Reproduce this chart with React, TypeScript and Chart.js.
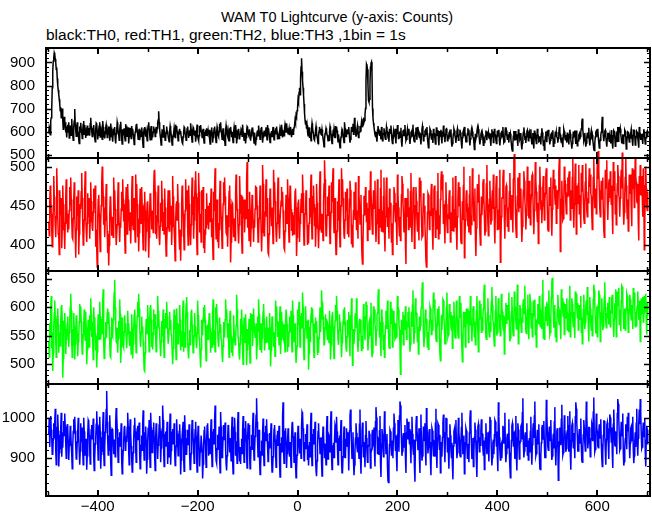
import React, { useEffect, useRef } from "react";
import { Chart, registerables } from "chart.js";

Chart.register(...registerables);

// time bins (seconds), 1 bin = 1 s
const T_START = -498;
const BIN = 1;

// black: TH0
const TH0 = [
  592, 620, 612, 586, 648, 660, 700, 790, 862, 905, 920, 942, 934, 915, 900, 870, 878, 830, 800, 780, 762, 740, 720, 690, 705, 660, 680, 700, 652, 610, 640, 664, 618, 640, 596, 612, 574, 620, 630, 598,
  640, 572, 588, 626, 602, 584, 655, 610, 585, 562, 620, 646, 698, 630, 604, 580, 612, 640, 578, 600, 566, 548, 622, 598, 638, 610, 596, 570, 604, 632, 646, 588, 628, 606, 572, 594, 581, 626, 610, 586,
  615, 596, 582, 634, 660, 622, 604, 578, 594, 612, 628, 590, 572, 556, 610, 636, 632, 602, 566, 584, 608, 624, 640, 576, 588, 610, 598, 566, 646, 620, 574, 602, 570, 592, 616, 630, 612, 574, 590, 608,
  598, 622, 560, 580, 635, 612, 602, 574, 556, 596, 584, 610, 620, 568, 548, 590, 602, 640, 626, 598, 586, 562, 604, 628, 642, 600, 570, 546, 610, 586, 588, 614, 578, 560, 632, 604, 625, 580, 596, 618,
  548, 578, 592, 616, 596, 570, 624, 600, 612, 588, 574, 544, 570, 598, 606, 628, 634, 604, 588, 566, 590, 612, 562, 584, 606, 580, 618, 596, 558, 532, 596, 612, 620, 590, 578, 600, 584, 560, 608, 626,
  640, 612, 586, 564, 600, 624, 562, 588, 574, 598, 622, 600, 612, 578, 594, 620, 592, 614, 636, 650, 688, 640, 610, 584, 566, 542, 580, 606, 604, 576, 628, 604, 586, 562, 570, 594, 622, 602, 600, 578,
  578, 556, 602, 624, 610, 588, 566, 542, 560, 580, 594, 616, 598, 574, 630, 606, 624, 598, 586, 560, 582, 604, 612, 590, 602, 580, 570, 552, 548, 576, 598, 620, 616, 592, 584, 562, 590, 612, 622, 596,
  572, 594, 606, 584, 636, 610, 578, 554, 596, 618, 612, 586, 584, 604, 556, 578, 606, 630, 590, 568, 560, 582, 624, 600, 628, 606, 600, 574, 592, 612, 572, 550, 578, 596, 608, 584, 614, 590, 586, 604,
  586, 608, 566, 546, 604, 582, 618, 596, 552, 574, 590, 612, 622, 598, 574, 552, 596, 620, 608, 584, 578, 600, 634, 612, 640, 606, 588, 566, 590, 614, 560, 582, 566, 540, 602, 626, 608, 588, 580, 602,
  582, 560, 614, 592, 620, 600, 576, 598, 574, 552, 596, 618, 598, 576, 628, 604, 548, 570, 584, 606, 612, 590, 566, 588, 590, 610, 604, 580, 630, 598, 586, 562, 572, 594, 548, 574, 600, 622, 618, 590,
  584, 602, 610, 586, 560, 582, 596, 614, 618, 594, 572, 550, 596, 570, 540, 566, 574, 598, 606, 582, 626, 604, 588, 566, 590, 612, 620, 596, 552, 576, 578, 600, 604, 582, 596, 618, 586, 564, 628, 602,
  614, 590, 574, 552, 568, 594, 602, 578, 598, 620, 586, 564, 580, 602, 614, 590, 622, 600, 566, 586, 592, 570, 598, 616, 606, 584, 630, 608, 574, 596, 604, 582, 612, 632, 620, 598, 636, 614, 608, 590,
  598, 612, 584, 604, 620, 596, 576, 600, 612, 588, 596, 618, 625, 650, 640, 672, 665, 690, 700, 740, 730, 770, 790, 760, 830, 880, 918, 860, 820, 790, 760, 720, 680, 650, 630, 646, 612, 628, 600, 582,
  600, 618, 572, 594, 586, 560, 612, 636, 620, 598, 590, 566, 562, 584, 604, 622, 600, 578, 568, 548, 578, 602, 620, 596, 612, 588, 586, 608, 590, 570, 556, 534, 566, 590, 598, 614, 604, 586, 580, 560,
  584, 562, 600, 622, 610, 588, 566, 548, 570, 596, 590, 612, 596, 574, 624, 598, 622, 604, 580, 556, 588, 566, 548, 530, 552, 576, 594, 610, 604, 586, 570, 552, 640, 614, 602, 578, 582, 604, 610, 592,
  598, 620, 574, 552, 566, 590, 620, 598, 612, 634, 588, 610, 660, 630, 602, 578, 590, 612, 626, 600, 574, 596, 598, 624, 602, 620, 640, 618, 630, 652, 655, 640, 648, 672, 700, 820, 892, 885, 870, 800,
  735, 728, 740, 810, 880, 896, 902, 860, 700, 660, 636, 620, 602, 586, 578, 598, 572, 556, 606, 624, 610, 590, 584, 604, 588, 566, 620, 600, 560, 582, 592, 614, 596, 574, 566, 590, 620, 604, 598, 576,
  578, 556, 612, 590, 604, 626, 586, 564, 548, 574, 600, 582, 590, 612, 570, 548, 612, 590, 628, 604, 570, 590, 594, 572, 598, 616, 556, 534, 584, 602, 604, 580, 606, 628, 582, 560, 566, 592, 610, 588,
  592, 612, 568, 546, 574, 596, 600, 578, 610, 630, 582, 560, 556, 578, 596, 618, 588, 564, 620, 598, 602, 580, 574, 596, 566, 544, 588, 610, 624, 600, 560, 582, 580, 602, 606, 584, 598, 620, 572, 550,
  530, 560, 590, 612, 606, 582, 568, 592, 572, 550, 612, 590, 590, 568, 546, 572, 618, 596, 584, 606, 562, 540, 602, 580, 584, 608, 570, 548, 600, 578, 626, 604, 576, 554, 588, 610, 612, 590, 560, 584,
  570, 592, 598, 576, 588, 610, 556, 534, 548, 572, 590, 612, 604, 582, 572, 550, 580, 600, 612, 590, 562, 584, 586, 608, 596, 574, 548, 526, 574, 596, 604, 580, 620, 598, 578, 556, 556, 578, 592, 614,
  586, 608, 562, 540, 568, 590, 606, 582, 600, 576, 574, 552, 522, 556, 590, 568, 578, 600, 614, 592, 610, 588, 566, 544, 566, 588, 596, 574, 590, 566, 540, 562, 552, 574, 582, 604, 584, 562, 600, 580,
  596, 574, 570, 592, 560, 538, 588, 610, 578, 600, 552, 574, 612, 590, 584, 562, 548, 570, 604, 582, 586, 608, 560, 540, 570, 592, 596, 574, 598, 620, 574, 552, 556, 580, 618, 596, 604, 582, 566, 588,
  574, 552, 598, 576, 590, 568, 546, 524, 515, 548, 580, 602, 582, 560, 602, 580, 566, 588, 560, 538, 610, 586, 588, 566, 572, 594, 544, 522, 550, 574, 596, 618, 594, 570, 572, 550, 578, 600, 606, 584,
  560, 582, 594, 570, 588, 610, 566, 544, 572, 594, 548, 526, 604, 582, 586, 564, 548, 570, 612, 590, 580, 556, 558, 580, 566, 544, 592, 614, 596, 572, 540, 562, 520, 548, 578, 600, 576, 554, 604, 582,
  608, 584, 566, 544, 562, 586, 590, 568, 584, 606, 536, 558, 550, 572, 600, 578, 598, 576, 574, 552, 570, 594, 620, 596, 586, 562, 552, 574, 556, 532, 588, 610, 600, 576, 564, 586, 574, 552, 596, 572,
  566, 544, 586, 608, 590, 566, 548, 526, 548, 572, 600, 578, 582, 604, 568, 546, 604, 582, 538, 560, 560, 584, 590, 566, 578, 600, 612, 640, 656, 608, 584, 562, 572, 594, 556, 534, 550, 574, 594, 570,
  594, 616, 562, 540, 568, 590, 604, 580, 586, 562, 544, 522, 518, 550, 576, 598, 602, 578, 590, 612, 574, 552, 528, 554, 562, 584, 598, 630, 664, 612, 580, 558, 580, 602, 606, 582, 556, 534, 570, 592,
  592, 570, 558, 580, 570, 548, 606, 584, 548, 526, 582, 604, 600, 578, 536, 558, 576, 554, 598, 620, 558, 580, 620, 596, 612, 590, 570, 548, 566, 588, 548, 572, 584, 606, 600, 576, 524, 550, 576, 598,
  596, 574, 554, 578, 572, 594, 610, 586, 560, 538, 584, 606, 606, 582, 542, 564, 578, 600, 596, 572, 552, 530, 620, 598, 590, 566, 566, 590, 568, 546, 588, 610, 598, 574, 546, 568, 574, 596, 602, 580,
];

// red: TH1
const TH1 = [
  430, 412, 455, 476, 468, 440, 420, 398, 402, 450, 488, 462, 445, 424, 410, 436, 498, 470, 436, 414, 412, 388, 470, 446, 438, 460, 396, 420, 476, 452, 444, 418, 395, 428, 462, 484, 452, 430, 416, 440,
  420, 444, 474, 452, 486, 458, 432, 410, 408, 434, 458, 480, 440, 416, 384, 420, 462, 438, 448, 470, 388, 414, 426, 452, 446, 468, 492, 460, 425, 400, 406, 432, 470, 494, 440, 418, 404, 428, 466, 442,
  436, 460, 408, 430, 480, 456, 446, 422, 418, 442, 472, 448, 452, 476, 398, 420, 396, 372, 434, 458, 464, 440, 416, 392, 428, 450, 478, 500, 490, 462, 426, 448, 410, 432, 454, 478, 442, 418, 390, 414,
  374, 400, 438, 462, 458, 434, 412, 436, 432, 410, 486, 460, 470, 446, 424, 400, 400, 426, 456, 480, 448, 424, 404, 428, 422, 446, 468, 444, 484, 458, 430, 452, 412, 390, 450, 474, 438, 414, 478, 454,
  458, 432, 418, 442, 402, 426, 464, 488, 444, 420, 436, 460, 426, 404, 490, 466, 478, 452, 410, 434, 392, 416, 448, 472, 450, 428, 474, 450, 416, 394, 428, 452, 468, 444, 392, 418, 430, 454, 456, 432,
  384, 410, 442, 466, 462, 438, 420, 444, 440, 416, 470, 494, 496, 468, 414, 438, 408, 430, 452, 476, 436, 412, 400, 424, 454, 430, 482, 458, 418, 442, 438, 414, 472, 448, 410, 386, 398, 422, 446, 470,
  442, 418, 470, 446, 426, 450, 400, 424, 488, 462, 444, 420, 404, 380, 428, 452, 456, 432, 478, 454, 432, 408, 394, 420, 380, 412, 452, 476, 464, 440, 418, 394, 418, 444, 484, 460, 446, 470, 424, 400,
  476, 452, 438, 414, 400, 426, 462, 486, 438, 462, 408, 432, 458, 482, 494, 466, 412, 388, 436, 460, 492, 468, 416, 440, 428, 404, 470, 446, 450, 474, 396, 420, 390, 414, 446, 422, 466, 442, 426, 450,
  420, 444, 454, 430, 448, 472, 410, 434, 406, 382, 468, 444, 474, 498, 432, 408, 434, 458, 404, 428, 396, 420, 458, 482, 460, 436, 420, 396, 428, 452, 480, 456, 486, 462, 440, 416, 414, 438, 398, 424,
  444, 468, 476, 452, 378, 404, 430, 454, 452, 428, 410, 434, 430, 406, 466, 490, 470, 446, 442, 418, 402, 426, 488, 464, 440, 464, 414, 390, 462, 438, 434, 458, 416, 440, 458, 434, 482, 506, 422, 446,
  430, 406, 468, 444, 398, 422, 440, 464, 456, 432, 404, 428, 422, 446, 476, 452, 474, 450, 428, 404, 410, 434, 452, 476, 446, 422, 392, 416, 502, 478, 436, 412, 418, 442, 460, 484, 436, 460, 414, 390,
  388, 414, 448, 472, 462, 438, 424, 448, 426, 402, 496, 472, 480, 456, 438, 414, 404, 428, 462, 486, 448, 424, 408, 432, 432, 456, 474, 450, 468, 444, 420, 396, 394, 418, 440, 464, 452, 428, 484, 460,
  428, 404, 452, 476, 470, 446, 418, 442, 412, 436, 438, 414, 444, 468, 472, 448, 386, 410, 430, 454, 458, 434, 404, 428, 434, 458, 466, 442, 490, 466, 424, 400, 416, 440, 446, 470, 450, 426, 400, 424,
  402, 428, 460, 436, 466, 490, 432, 408, 438, 462, 476, 452, 424, 448, 398, 422, 478, 454, 444, 420, 396, 420, 470, 494, 446, 422, 416, 440, 430, 406, 454, 478, 508, 484, 436, 412, 414, 438, 462, 438,
  452, 476, 426, 402, 418, 442, 480, 456, 474, 498, 440, 416, 436, 460, 412, 388, 392, 418, 456, 432, 460, 484, 422, 398, 426, 450, 498, 474, 484, 460, 436, 412, 408, 432, 468, 444, 448, 472, 414, 438,
  434, 410, 458, 482, 470, 446, 402, 426, 398, 422, 444, 468, 456, 432, 480, 456, 420, 444, 432, 408, 488, 464, 450, 426, 440, 464, 410, 386, 376, 404, 438, 462, 462, 438, 474, 450, 430, 454, 406, 430,
  446, 470, 420, 444, 494, 470, 452, 428, 414, 438, 470, 446, 458, 482, 428, 404, 428, 452, 484, 460, 402, 426, 446, 422, 472, 496, 418, 442, 440, 416, 462, 486, 416, 392, 436, 460, 486, 462, 424, 448,
  432, 408, 472, 448, 454, 430, 404, 428, 388, 414, 450, 474, 466, 442, 430, 454, 424, 400, 490, 466, 448, 424, 412, 436, 406, 430, 464, 488, 478, 454, 440, 416, 436, 460, 400, 376, 460, 436, 448, 472,
  420, 444, 446, 422, 468, 492, 428, 404, 442, 466, 474, 450, 396, 420, 450, 474, 456, 432, 418, 442, 430, 406, 486, 462, 482, 458, 434, 410, 412, 436, 466, 442, 450, 426, 404, 380, 372, 400, 442, 466,
  464, 440, 420, 444, 438, 462, 478, 454, 418, 394, 446, 470, 476, 452, 410, 434, 444, 420, 468, 492, 408, 432, 438, 414, 458, 482, 494, 470, 490, 466, 428, 452, 426, 402, 456, 480, 452, 428, 416, 440,
  434, 458, 470, 446, 404, 428, 442, 418, 462, 486, 418, 442, 446, 422, 488, 464, 418, 394, 436, 460, 480, 456, 450, 474, 428, 404, 402, 426, 456, 432, 476, 500, 384, 408, 432, 456, 470, 446, 448, 424,
  440, 416, 464, 488, 414, 438, 426, 450, 498, 474, 454, 430, 448, 472, 410, 386, 422, 446, 478, 454, 466, 490, 440, 416, 400, 424, 462, 438, 454, 478, 484, 460, 436, 412, 418, 442, 478, 502, 452, 428,
  412, 436, 458, 482, 450, 426, 432, 456, 470, 446, 490, 466, 426, 402, 448, 472, 488, 464, 420, 444, 444, 420, 472, 496, 378, 402, 436, 460, 460, 484, 496, 472, 432, 408, 450, 474, 476, 452, 424, 448,
  418, 442, 468, 492, 456, 432, 440, 464, 440, 416, 484, 508, 516, 490, 446, 422, 410, 434, 462, 486, 466, 442, 492, 468, 448, 472, 428, 404, 424, 448, 470, 494, 482, 458, 444, 420, 438, 462, 500, 476,
  458, 434, 482, 458, 426, 450, 464, 488, 490, 466, 438, 414, 444, 468, 506, 482, 468, 444, 430, 454, 402, 426, 476, 500, 474, 450, 452, 428, 450, 474, 488, 464, 432, 456, 466, 490, 498, 474, 444, 420,
  418, 442, 474, 450, 462, 486, 436, 412, 446, 470, 496, 472, 484, 460, 452, 476, 428, 452, 470, 446, 470, 494, 510, 486, 392, 418, 458, 482, 456, 432, 434, 458, 500, 476, 478, 454, 440, 464, 462, 486,
  464, 488, 494, 470, 432, 456, 470, 446, 486, 510, 446, 422, 452, 476, 504, 480, 414, 438, 476, 452, 478, 502, 440, 464, 446, 422, 492, 468, 502, 478, 458, 434, 428, 452, 480, 504, 468, 444, 436, 460,
  454, 478, 498, 474, 490, 466, 462, 438, 420, 444, 486, 510, 472, 448, 448, 472, 440, 464, 508, 484, 520, 496, 470, 446, 436, 460, 482, 458, 462, 486, 444, 420, 410, 434, 496, 472, 484, 508, 456, 432,
  456, 480, 484, 460, 494, 470, 452, 476, 438, 414, 506, 482, 470, 494, 440, 464, 426, 450, 478, 502, 488, 464, 460, 436, 460, 484, 496, 472, 518, 494, 450, 426, 442, 466, 486, 510, 476, 452, 434, 458,
  418, 442, 490, 466, 466, 490, 448, 424, 498, 474, 472, 496, 448, 472, 512, 488, 480, 456, 454, 478, 430, 406, 488, 464, 502, 478, 464, 488, 460, 436, 498, 474, 394, 420, 476, 500, 472, 448, 444, 468,
];

// green: TH2
const TH2 = [
  540, 512, 572, 548, 596, 620, 528, 556, 488, 520, 566, 590, 612, 580, 540, 512, 558, 584, 598, 570, 520, 546, 556, 532, 574, 600, 604, 576, 476, 510, 550, 576, 590, 562, 518, 544, 546, 572, 584, 556,
  530, 556, 576, 600, 624, 594, 538, 512, 562, 534, 590, 564, 508, 536, 560, 586, 580, 552, 514, 540, 548, 574, 606, 580, 602, 574, 544, 518, 526, 552, 570, 596, 568, 542, 592, 564, 500, 526, 552, 578,
  556, 530, 586, 560, 616, 588, 548, 574, 534, 508, 600, 576, 582, 554, 524, 550, 494, 522, 562, 588, 570, 544, 610, 584, 544, 570, 580, 554, 608, 632, 536, 510, 520, 546, 574, 548, 564, 590, 598, 572,
  592, 566, 540, 514, 512, 546, 582, 556, 552, 578, 600, 626, 648, 600, 566, 540, 538, 564, 520, 546, 576, 552, 614, 588, 502, 530, 556, 582, 560, 534, 530, 556, 586, 560, 572, 546, 528, 554, 594, 568,
  572, 546, 532, 558, 544, 518, 588, 562, 510, 536, 560, 586, 596, 570, 546, 520, 558, 584, 610, 584, 624, 598, 568, 542, 530, 556, 584, 558, 566, 540, 516, 490, 488, 520, 552, 578, 580, 554, 604, 578,
  548, 522, 574, 600, 604, 578, 530, 556, 526, 552, 596, 570, 562, 588, 548, 522, 540, 566, 620, 594, 592, 566, 558, 532, 514, 540, 576, 550, 570, 596, 538, 512, 552, 578, 590, 564, 610, 584, 562, 536,
  536, 562, 592, 566, 578, 552, 550, 524, 500, 528, 570, 596, 560, 586, 534, 508, 598, 572, 562, 536, 544, 570, 604, 578, 524, 550, 558, 532, 586, 612, 522, 548, 556, 530, 580, 606, 618, 592, 548, 522,
  510, 536, 560, 534, 566, 592, 596, 570, 546, 520, 524, 550, 590, 564, 566, 540, 528, 554, 612, 586, 572, 546, 540, 514, 494, 526, 578, 552, 556, 582, 600, 574, 604, 578, 532, 506, 540, 566, 570, 544,
  562, 588, 590, 564, 520, 546, 556, 530, 588, 614, 534, 560, 548, 522, 600, 574, 606, 580, 566, 540, 530, 556, 582, 556, 570, 544, 542, 516, 504, 532, 574, 548, 552, 578, 614, 588, 596, 570, 546, 572,
  538, 512, 568, 594, 576, 550, 520, 546, 514, 540, 586, 560, 560, 534, 542, 568, 622, 596, 574, 548, 542, 516, 508, 536, 580, 554, 596, 570, 526, 500, 556, 582, 564, 538, 588, 562, 498, 526, 562, 536,
  554, 580, 528, 502, 590, 564, 562, 588, 532, 558, 598, 572, 572, 546, 546, 572, 508, 534, 584, 558, 614, 588, 552, 526, 546, 572, 520, 546, 566, 592, 606, 580, 524, 550, 564, 538, 584, 558, 538, 564,
  552, 526, 590, 564, 496, 524, 558, 584, 578, 552, 530, 556, 540, 514, 612, 586, 602, 576, 548, 574, 560, 534, 576, 602, 518, 544, 592, 566, 574, 548, 544, 570, 548, 522, 570, 596, 596, 570, 522, 548,
  530, 556, 584, 558, 568, 594, 548, 522, 612, 586, 566, 540, 546, 572, 528, 502, 502, 532, 596, 570, 584, 610, 556, 530, 558, 584, 590, 564, 626, 600, 534, 508, 536, 562, 602, 576, 572, 546, 552, 578,
  490, 520, 566, 540, 562, 588, 600, 574, 598, 572, 538, 512, 544, 570, 582, 556, 576, 550, 516, 542, 520, 546, 574, 600, 556, 580, 630, 604, 610, 584, 560, 534, 538, 564, 588, 562, 580, 554, 542, 568,
  564, 538, 594, 568, 508, 534, 560, 586, 592, 566, 536, 510, 550, 576, 604, 578, 620, 594, 570, 544, 534, 560, 588, 562, 574, 548, 512, 538, 548, 574, 596, 570, 600, 574, 556, 530, 522, 548, 578, 552,
  566, 592, 540, 514, 586, 560, 616, 590, 498, 526, 562, 536, 558, 584, 590, 564, 616, 590, 548, 522, 542, 568, 580, 554, 578, 552, 524, 550, 528, 554, 606, 580, 568, 542, 584, 610, 604, 578, 550, 524,
  546, 572, 576, 550, 582, 608, 538, 512, 520, 548, 602, 576, 596, 570, 558, 532, 560, 586, 590, 616, 632, 606, 548, 574, 540, 514, 596, 570, 574, 548, 526, 552, 512, 540, 568, 594, 588, 562, 612, 586,
  556, 530, 528, 554, 610, 584, 572, 598, 530, 556, 594, 568, 570, 544, 546, 572, 548, 574, 620, 594, 596, 570, 560, 534, 482, 520, 578, 552, 566, 592, 534, 560, 586, 560, 602, 576, 544, 570, 566, 592,
  574, 600, 548, 522, 536, 562, 592, 566, 604, 630, 562, 536, 556, 582, 616, 590, 590, 564, 540, 566, 518, 544, 584, 558, 568, 594, 600, 626, 644, 610, 556, 530, 548, 574, 596, 570, 580, 554, 530, 556,
  526, 552, 576, 602, 598, 572, 552, 578, 560, 586, 626, 600, 614, 588, 570, 544, 540, 566, 598, 572, 576, 602, 544, 518, 506, 534, 586, 560, 588, 614, 612, 586, 562, 536, 536, 562, 600, 626, 574, 548,
  552, 578, 606, 580, 592, 566, 560, 586, 528, 554, 584, 610, 574, 548, 546, 572, 612, 586, 578, 552, 546, 572, 620, 594, 582, 608, 554, 528, 504, 534, 592, 566, 566, 592, 530, 556, 598, 572, 572, 598,
  538, 564, 594, 568, 620, 594, 566, 540, 570, 596, 602, 576, 548, 574, 534, 560, 594, 620, 580, 554, 522, 550, 612, 586, 580, 606, 556, 582, 560, 586, 598, 624, 640, 612, 574, 548, 544, 570, 590, 616,
  586, 560, 548, 574, 558, 584, 610, 636, 604, 578, 572, 546, 532, 558, 594, 620, 576, 550, 556, 582, 616, 590, 586, 560, 550, 576, 624, 598, 592, 566, 560, 586, 518, 546, 582, 608, 572, 598, 604, 578,
  600, 626, 566, 540, 546, 572, 592, 618, 584, 558, 550, 576, 628, 602, 600, 574, 562, 588, 640, 614, 536, 562, 578, 604, 598, 572, 556, 582, 574, 600, 614, 588, 612, 638, 584, 558, 554, 580, 596, 622,
  570, 544, 598, 624, 610, 584, 564, 590, 548, 574, 612, 586, 588, 614, 552, 578, 530, 558, 580, 606, 596, 570, 620, 594, 566, 592, 588, 562, 622, 648, 546, 572, 544, 570, 602, 576, 584, 610, 568, 594,
  604, 630, 578, 552, 556, 582, 618, 644, 652, 624, 590, 564, 578, 604, 548, 574, 540, 566, 596, 622, 600, 574, 570, 596, 570, 544, 632, 606, 616, 590, 584, 610, 552, 578, 606, 580, 590, 616, 560, 586,
  582, 556, 612, 638, 548, 574, 590, 616, 606, 580, 566, 592, 572, 546, 628, 602, 624, 598, 582, 608, 560, 586, 604, 578, 594, 620, 556, 582, 536, 562, 596, 622, 588, 562, 574, 600, 612, 586, 636, 610,
  566, 540, 592, 618, 598, 572, 560, 586, 550, 576, 614, 640, 630, 604, 580, 554, 576, 602, 548, 574, 604, 630, 622, 596, 540, 566, 590, 616, 586, 560, 566, 592, 618, 644, 600, 574, 564, 590, 582, 608,
  596, 570, 618, 592, 566, 592, 590, 616, 622, 596, 574, 548, 580, 606, 606, 632, 548, 574, 628, 602, 608, 634, 570, 596, 584, 558, 612, 638, 636, 610, 588, 562, 572, 598, 560, 586, 598, 624, 620, 594,
  556, 582, 596, 622, 614, 588, 578, 604, 588, 562, 634, 608, 626, 600, 566, 592, 568, 594, 602, 628, 604, 578, 586, 612, 540, 566, 616, 590, 592, 618, 574, 600, 620, 594, 598, 624, 578, 552, 610, 584,
];

// blue: TH3
const TH3 = [
  960, 1000, 928, 966, 1004, 970, 950, 910, 912, 948, 986, 952, 988, 1022, 920, 884, 942, 976, 1008, 968, 880, 914, 958, 924, 976, 1012, 904, 938, 926, 962, 992, 956, 1010, 978, 936, 900, 948, 984, 974, 940,
  896, 932, 944, 980, 968, 934, 910, 874, 930, 966, 996, 962, 1002, 968, 932, 898, 904, 940, 966, 1000, 956, 920, 884, 918, 986, 952, 940, 976, 918, 884, 1000, 966, 944, 908, 912, 948, 872, 906, 958, 994,
  990, 956, 920, 886, 936, 970, 982, 948, 962, 998, 904, 870, 900, 936, 948, 984, 1016, 980, 930, 896, 946, 982, 1002, 966, 874, 910, 952, 918, 978, 1014, 916, 882, 928, 964, 972, 1020, 1066, 990, 944, 908,
  956, 920, 1006, 972, 892, 858, 936, 972, 970, 936, 910, 946, 938, 904, 988, 1024, 1008, 972, 926, 890, 914, 950, 964, 930, 950, 986, 896, 862, 884, 920, 942, 976, 980, 946, 918, 954, 940, 976, 1012, 978,
  918, 884, 962, 996, 964, 930, 900, 866, 880, 914, 946, 980, 1000, 966, 924, 890, 936, 972, 980, 946, 952, 988, 908, 874, 896, 932, 956, 920, 984, 1018, 930, 896, 926, 962, 978, 944, 862, 898, 940, 976,
  958, 994, 912, 878, 1012, 976, 948, 914, 932, 968, 988, 952, 904, 870, 950, 986, 970, 934, 898, 932, 946, 982, 1004, 968, 890, 926, 936, 972, 1030, 994, 916, 880, 922, 958, 966, 930, 954, 990, 886, 922,
  940, 904, 976, 1010, 884, 920, 928, 964, 972, 936, 950, 986, 918, 882, 894, 930, 996, 960, 942, 906, 930, 966, 984, 948, 860, 896, 920, 956, 956, 990, 902, 868, 1006, 970, 946, 910, 912, 948, 970, 934,
  948, 984, 908, 872, 876, 912, 960, 994, 984, 948, 924, 888, 934, 970, 990, 954, 902, 866, 944, 980, 962, 926, 880, 916, 920, 956, 956, 920, 850, 886, 932, 968, 978, 942, 914, 878, 944, 980, 986, 950,
  906, 942, 948, 912, 960, 996, 916, 880, 928, 964, 972, 936, 994, 1030, 930, 894, 888, 924, 958, 922, 942, 978, 900, 864, 1014, 978, 938, 902, 916, 952, 982, 946, 952, 988, 922, 886, 870, 906, 946, 982,
  974, 938, 914, 950, 930, 894, 966, 1002, 898, 862, 940, 976, 1000, 964, 906, 942, 924, 888, 978, 1014, 954, 918, 892, 928, 886, 922, 948, 912, 968, 1004, 926, 890, 936, 972, 992, 956, 912, 876, 950, 986,
  946, 982, 910, 874, 892, 928, 958, 922, 978, 1012, 932, 896, 918, 954, 970, 1006, 1048, 990, 940, 904, 934, 970, 896, 860, 880, 916, 944, 908, 962, 998, 918, 882, 926, 962, 980, 944, 996, 960, 928, 892,
  904, 940, 962, 926, 950, 986, 902, 866, 868, 904, 936, 972, 982, 946, 914, 878, 920, 956, 968, 932, 944, 980, 890, 854, 900, 936, 952, 916, 1002, 1038, 924, 888, 930, 966, 974, 938, 876, 912, 938, 974,
  958, 922, 904, 940, 914, 878, 950, 986, 990, 954, 926, 890, 928, 964, 888, 852, 872, 908, 944, 980, 966, 930, 912, 948, 936, 900, 978, 1014, 1010, 974, 930, 894, 902, 938, 960, 924, 948, 984, 896, 932,
  882, 918, 940, 904, 976, 1012, 918, 882, 922, 958, 972, 936, 954, 990, 906, 870, 856, 894, 930, 966, 986, 950, 948, 912, 916, 952, 892, 856, 942, 978, 964, 928, 900, 936, 920, 884, 968, 1004, 934, 898,
  920, 956, 952, 916, 980, 1016, 908, 872, 894, 930, 938, 902, 946, 982, 976, 940, 1002, 966, 920, 884, 912, 948, 956, 920, 958, 994, 900, 864, 866, 904, 942, 978, 938, 902, 910, 946, 974, 938, 928, 964,
  906, 870, 968, 1004, 1020, 984, 934, 898, 928, 964, 894, 858, 884, 920, 950, 986, 962, 926, 916, 952, 934, 898, 984, 1020, 898, 862, 930, 966, 988, 952, 904, 940, 914, 878, 956, 992, 950, 914, 890, 926,
  932, 968, 960, 924, 876, 912, 922, 958, 970, 934, 940, 976, 916, 880, 990, 1026, 1000, 964, 912, 948, 944, 908, 968, 1004, 890, 854, 936, 972, 958, 922, 904, 940, 1016, 980, 946, 910, 924, 960, 880, 844,
  840, 890, 934, 970, 966, 930, 908, 944, 936, 900, 974, 1010, 986, 950, 920, 956, 904, 868, 958, 994, 952, 916, 1004, 1040, 1030, 994, 942, 906, 918, 954, 962, 926, 946, 982, 900, 864, 962, 998, 982, 946,
  990, 954, 936, 972, 924, 888, 966, 1002, 960, 924, 910, 946, 878, 842, 944, 980, 1004, 968, 956, 920, 938, 974, 900, 864, 972, 1008, 930, 894, 906, 942, 978, 942, 950, 986, 918, 882, 1024, 988, 948, 912,
  928, 964, 972, 936, 894, 858, 938, 974, 968, 932, 906, 942, 940, 904, 986, 1022, 912, 876, 950, 986, 982, 946, 922, 958, 864, 900, 940, 904, 952, 988, 1008, 972, 926, 890, 962, 998, 998, 962, 916, 952,
  910, 874, 948, 984, 956, 920, 902, 938, 884, 848, 930, 966, 972, 936, 958, 994, 936, 900, 914, 950, 1000, 964, 944, 908, 904, 940, 976, 1012, 946, 910, 920, 956, 862, 898, 938, 974, 968, 932, 900, 936,
  926, 890, 962, 998, 1018, 982, 934, 898, 914, 950, 880, 916, 952, 988, 970, 934, 890, 854, 942, 978, 984, 948, 916, 952, 932, 968, 996, 960, 960, 924, 908, 944, 872, 908, 950, 986, 946, 910, 928, 964,
  928, 892, 966, 1002, 994, 958, 918, 882, 902, 938, 946, 910, 958, 994, 990, 954, 930, 966, 904, 868, 1038, 1002, 952, 916, 896, 932, 936, 900, 944, 980, 972, 936, 976, 1012, 926, 890, 912, 948, 960, 924,
  960, 996, 914, 878, 852, 888, 944, 980, 986, 950, 930, 966, 934, 898, 968, 1004, 906, 870, 950, 986, 970, 934, 898, 934, 942, 978, 982, 946, 1012, 1048, 938, 902, 918, 954, 964, 928, 950, 986, 908, 944,
  896, 932, 950, 914, 966, 1002, 920, 884, 934, 970, 986, 950, 1004, 1040, 942, 906, 912, 948, 970, 934, 948, 984, 910, 874, 872, 908, 938, 974, 982, 946, 956, 992, 938, 902, 902, 938, 1044, 1008, 964, 928,
  920, 956, 978, 942, 958, 994, 932, 896, 906, 942, 960, 924, 990, 1026, 918, 882, 930, 966, 974, 938, 846, 882, 940, 976, 968, 932, 996, 1032, 944, 908, 914, 950, 1006, 970, 952, 916, 924, 960, 968, 1004,
  952, 916, 980, 1016, 908, 872, 944, 980, 986, 950, 926, 962, 936, 900, 1002, 1038, 1022, 986, 954, 918, 918, 954, 972, 936, 962, 998, 930, 894, 890, 926, 958, 994, 974, 938, 918, 954, 1040, 1004, 960, 924,
  940, 976, 976, 940, 904, 940, 948, 984, 978, 942, 1014, 1050, 952, 916, 922, 958, 1010, 974, 966, 930, 926, 962, 984, 948, 960, 996, 936, 900, 880, 916, 956, 992, 992, 956, 920, 884, 946, 982, 988, 952,
  934, 898, 972, 1008, 1000, 964, 940, 976, 912, 876, 984, 1020, 968, 932, 930, 966, 946, 910, 1010, 1046, 1034, 998, 956, 920, 924, 960, 990, 954, 974, 1010, 918, 882, 892, 928, 948, 984, 958, 922, 1002, 966,
  1012, 976, 936, 900, 938, 974, 978, 942, 966, 1002, 924, 888, 906, 942, 964, 928, 986, 1022, 942, 906, 950, 986, 1020, 984, 1046, 1010, 960, 924, 928, 964, 988, 952, 962, 998, 916, 880, 944, 980, 970, 934,
];

// axis ticks
const X_MAJOR = [-400, -200, 0, 200, 400, 600];
const X_MINOR = [-500, -300, -100, 100, 300, 500, 700];
const Y_TICKS_TH0 = [500, 600, 700, 800, 900];
const Y_TICKS_TH1 = [400, 450, 500];
const Y_TICKS_TH2 = [500, 550, 600, 650];
const Y_TICKS_TH3 = [900, 1000];

const TITLE = "WAM T0 Lightcurve (y-axis: Counts)";
const SUBTITLE = "black:TH0, red:TH1, green:TH2, blue:TH3 ,1bin = 1s";

const X_MIN = -503.5;
const X_MAX = 705.5;
const FONT = "'Liberation Sans', Arial, Helvetica, sans-serif";
const MARGIN = 14;

type Panel = {
  values: number[];
  color: string;
  yMin: number;
  yMax: number;
  yTicks: number[];
  yMinorStep: number;
  top: number;
  bottom: number;
  xLabels: boolean;
};

const PANELS: Panel[] = [
  { values: TH0, color: "#000000", yMin: 485, yMax: 963, yTicks: Y_TICKS_TH0, yMinorStep: 20, top: 48, bottom: 158, xLabels: false },
  { values: TH1, color: "#ff0000", yMin: 367, yMax: 511, yTicks: Y_TICKS_TH1, yMinorStep: 10, top: 158, bottom: 271, xLabels: false },
  { values: TH2, color: "#00ff00", yMin: 465, yMax: 664, yTicks: Y_TICKS_TH2, yMinorStep: 10, top: 271, bottom: 384, xLabels: false },
  { values: TH3, color: "#0000ff", yMin: 807, yMax: 1083, yTicks: Y_TICKS_TH3, yMinorStep: 20, top: 384, bottom: 496, xLabels: true },
];

const framePlugin = {
  id: "frameTicks",
  afterDatasetsDraw(chart: any, _args: any, opts: any) {
    const { ctx, chartArea: a, scales } = chart;
    const xs = scales.x;
    const ys = scales.y;
    ctx.save();
    ctx.strokeStyle = "#000000";
    const seg = (x1: number, y1: number, x2: number, y2: number, w: number) => {
      ctx.lineWidth = w;
      ctx.beginPath();
      ctx.moveTo(x1, y1);
      ctx.lineTo(x2, y2);
      ctx.stroke();
    };
    for (const v of X_MAJOR) {
      const px = Math.round(xs.getPixelForValue(v));
      seg(px, a.top, px, a.top + 6, 2);
      seg(px, a.bottom, px, a.bottom - 6, 2);
    }
    for (const v of X_MINOR) {
      const px = Math.round(xs.getPixelForValue(v)) + 0.5;
      seg(px, a.top, px, a.top + 4, 1.5);
      seg(px, a.bottom, px, a.bottom - 4, 1.5);
    }
    const major: number[] = opts.major || [];
    const step: number = opts.minorStep || 10;
    const start = Math.ceil(ys.min / step) * step;
    for (let v = start; v <= ys.max; v += step) {
      const py = Math.round(ys.getPixelForValue(v)) + 0.5;
      const isMajor = major.indexOf(v) >= 0;
      const len = isMajor ? 6 : 3;
      seg(a.left, py, a.left + len, py, isMajor ? 1.5 : 1);
      seg(a.right, py, a.right - len, py, isMajor ? 1.5 : 1);
    }
    ctx.lineWidth = 2;
    ctx.strokeRect(a.left, a.top, a.right - a.left, a.bottom - a.top);
    ctx.restore();
  },
};

function fmt(v: number): string {
  return v < 0 ? "\u2212" + String(Math.abs(v)) : String(v);
}

function PanelChart({ panel }: { panel: Panel }) {
  const ref = useRef<HTMLCanvasElement | null>(null);
  const canvasTop = panel.top - MARGIN;
  const canvasBottom = panel.xLabels ? 515 : panel.bottom + MARGIN;
  const height = canvasBottom - canvasTop;

  useEffect(() => {
    if (!ref.current) return;
    const points = panel.values.map((v, i) => ({ x: T_START + i * BIN, y: v }));
    const chart = new Chart(ref.current, {
      type: "line",
      data: {
        datasets: [
          {
            data: points,
            borderColor: panel.color,
            backgroundColor: panel.color,
            borderWidth: 1.5,
            pointRadius: 0,
            tension: 0,
            clip: false as any,
          },
        ],
      },
      options: {
        responsive: false,
        animation: false,
        events: [],
        layout: {
          padding: { left: 0, right: 2, top: MARGIN, bottom: panel.xLabels ? 0 : MARGIN },
        },
        plugins: {
          legend: { display: false },
          tooltip: { enabled: false },
          title: { display: false },
          frameTicks: { major: panel.yTicks, minorStep: panel.yMinorStep },
        } as any,
        scales: {
          x: {
            type: "linear",
            min: X_MIN,
            max: X_MAX,
            grid: { display: false, drawTicks: false },
            border: { display: false },
            afterBuildTicks: (s: any) => {
              s.ticks = X_MAJOR.map((v) => ({ value: v }));
            },
            afterFit: (s: any) => {
              s.height = panel.xLabels ? 19 : 0;
            },
            ticks: {
              display: panel.xLabels,
              autoSkip: false,
              maxRotation: 0,
              padding: 2,
              color: "#000000",
              font: { family: FONT, size: 15 },
              callback: (v: any) => fmt(Number(v)),
            },
          },
          y: {
            type: "linear",
            min: panel.yMin,
            max: panel.yMax,
            grid: {
              display: true,
              drawOnChartArea: false,
              drawTicks: true,
              tickLength: 11,
              color: "rgba(0,0,0,0)",
            },
            border: { display: false },
            afterBuildTicks: (s: any) => {
              s.ticks = panel.yTicks.map((v) => ({ value: v }));
            },
            afterFit: (s: any) => {
              s.width = 46;
            },
            ticks: {
              autoSkip: false,
              padding: 0,
              color: "#000000",
              font: { family: FONT, size: 15 },
              callback: (v: any) => fmt(Number(v)),
            },
          },
        },
      },
      plugins: [framePlugin],
    });
    return () => chart.destroy();
  }, [panel]);

  return (
    <canvas
      ref={ref}
      width={652}
      height={height}
      style={{ position: "absolute", left: 0, top: canvasTop, width: 652, height }}
    />
  );
}

export default function App() {
  return (
    <div
      style={{
        position: "absolute",
        left: 0,
        top: 0,
        width: 652,
        height: 515,
        overflow: "hidden",
        background: "#ffffff",
        fontFamily: FONT,
      }}
    >
      <div
        style={{
          position: "absolute",
          left: 0,
          width: 674,
          top: 8,
          textAlign: "center",
          fontSize: 14.5,
          lineHeight: "18px",
          color: "#000",
          whiteSpace: "nowrap",
        }}
      >
        {TITLE}
      </div>
      <div
        style={{
          position: "absolute",
          left: 46,
          top: 26,
          fontSize: 15.5,
          lineHeight: "18px",
          color: "#000",
          whiteSpace: "nowrap",
        }}
      >
        {SUBTITLE}
      </div>
      {PANELS.map((p, i) => (
        <PanelChart key={i} panel={p} />
      ))}
    </div>
  );
}
